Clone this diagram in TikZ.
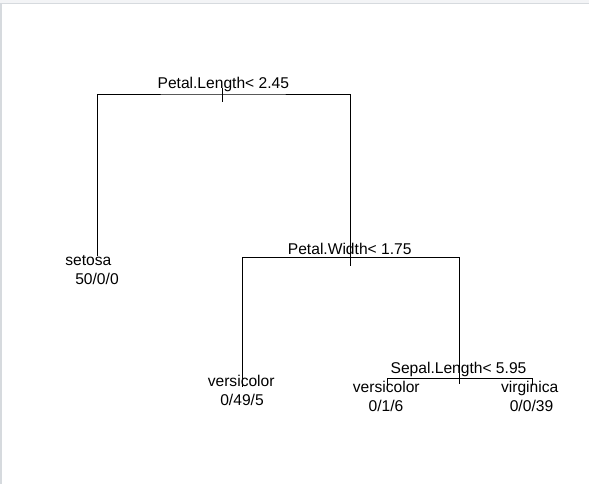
\documentclass[tikz,border=0pt]{standalone}
\usepackage{fontspec}
\setmainfont{Liberation Sans}
\definecolor{frame}{HTML}{D6DADE}
\definecolor{band}{HTML}{F3F4F6}
\tikzset{
  lbl/.style={font=\fontsize{15.6}{18}\selectfont, anchor=base, inner sep=0pt},
  branch/.style={line width=0.9pt}
}
\begin{document}
\begin{tikzpicture}[x=1pt, y=-1pt]
  \useasboundingbox (0,0) rectangle (589,484);
  \fill[band] (0,0) rectangle (589,3);
  \draw[frame, line width=1pt] (0,3.5) -- (589,3.5);
  \draw[frame, line width=1.5pt] (0.75,3) -- (0.75,484);
  % split points and leaves
  \coordinate (root) at (222.7,102);
  \coordinate (rootbar) at (222.7,94);
  \coordinate (pw) at (350.7,266);
  \coordinate (pwbar) at (350.7,257.5);
  \coordinate (sl) at (459.3,383.5);
  \coordinate (slbar) at (459.3,378.3);
  \coordinate (setosa) at (97.5,255.5);
  \coordinate (vers1) at (242.5,386.5);
  \coordinate (vers2) at (387.7,385);
  \coordinate (virg) at (532.3,385);
  % branches
  \draw[branch] (222.7,88) coordinate (top) -- (root);
  \draw[branch] (setosa) |- (rootbar) -| (pw);
  \draw[branch] (vers1) |- (pwbar) -| (sl);
  \draw[branch] (vers2) |- (slbar) -| (virg);
  % split labels
  \node[lbl] (rootlbl) at (223.3,89) {Petal.Length< 2.45};
  \node[lbl] (pwlbl) at (349.7,254.3) {Petal.Width< 1.75};
  \node[lbl] (sllbl) at (458.5,373.3) {Sepal.Length< 5.95};
  % leaf labels
  \node[lbl] (setosaname) at (88.3,265.7) {setosa};
  \node[lbl] (setosan) at (97,284.3) {50/0/0};
  \node[lbl] (vers1name) at (241.2,386) {versicolor};
  \node[lbl] (vers1n) at (242,405.7) {0/49/5};
  \node[lbl] (vers2name) at (386.3,392.7) {versicolor};
  \node[lbl] (vers2n) at (386,411) {0/1/6};
  \node[lbl] (virgname) at (529.7,392.7) {virginica};
  \node[lbl] (virgn) at (531.5,411) {0/0/39};
\end{tikzpicture}
\end{document}
